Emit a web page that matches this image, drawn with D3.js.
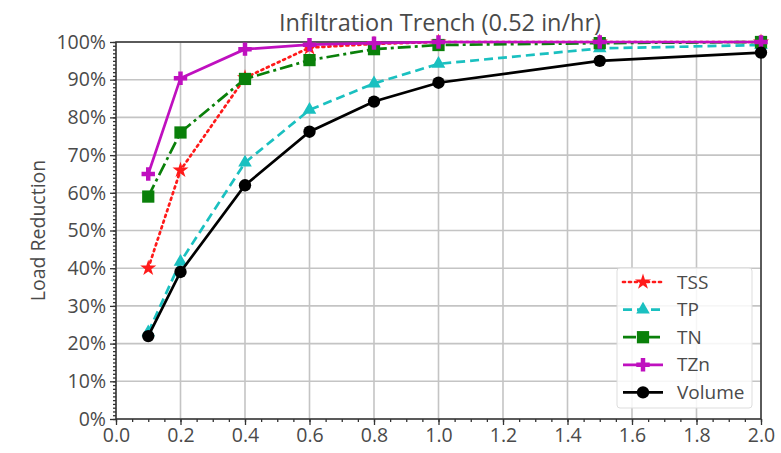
<!DOCTYPE html>
<html><head><meta charset="utf-8">
<script src="https://cdn.jsdelivr.net/npm/d3@7/dist/d3.min.js"></script>
<style>body{margin:0;background:#fff}svg{display:block}</style>
</head><body>
<script>
const xValues = [0.1, 0.2, 0.4, 0.6, 0.8, 1.0, 1.5, 2.0];
const tss    = [40, 66, 90.5, 98.5, 99.5, 100, 100, 100];
const tp     = [23, 41.7, 68, 82, 89, 94.2, 98.3, 99.2];
const tn     = [59, 76, 90.2, 95.2, 98.1, 99.2, 99.7, 100];
const tzn    = [65, 90.4, 98.1, 99.3, 99.7, 100, 100, 100];
const volume = [22, 39, 62, 76.2, 84.2, 89.2, 95, 97.2];
const seriesNames = ["TSS", "TP", "TN", "TZn", "Volume"];
const xTicks = [0, 0.2, 0.4, 0.6, 0.8, 1.0, 1.2, 1.4, 1.6, 1.8, 2.0];
const yTicks = [0, 10, 20, 30, 40, 50, 60, 70, 80, 90, 100];
const title = "Infiltration Trench (0.52 in/hr)";
const yLabel = "Load Reduction";

const W = 781, H = 453;
const m = {l:116, r:20, t:42, b:34};
const svg = d3.select("body").append("svg").attr("width", W).attr("height", H);
const x = d3.scaleLinear().domain([0, 2]).range([m.l, W - m.r]);
const y = d3.scaleLinear().domain([0, 100]).range([H - m.b, m.t]);
const font = "'Open Sans', 'DejaVu Sans', sans-serif";
const txt = "#4a4a4a";

// grid
const g = svg.append("g");
g.selectAll(".gx").data(xTicks).join("line")
  .attr("x1", d => x(d)).attr("x2", d => x(d)).attr("y1", y(0)).attr("y2", y(100))
  .attr("stroke", "#c4c4c4").attr("stroke-width", 1.6);
g.selectAll(".gy").data(yTicks).join("line")
  .attr("y1", d => y(d)).attr("y2", d => y(d)).attr("x1", x(0)).attr("x2", x(2))
  .attr("stroke", "#c4c4c4").attr("stroke-width", 1.6);

// axes
const xAxis = d3.axisBottom(x).tickValues(xTicks).tickFormat(d3.format(".1f")).tickSize(6).tickPadding(3);
const xMinor = d3.axisBottom(x).tickValues(d3.range(0, 2.0001, 0.05)).tickFormat("").tickSize(3);
const yAxis = d3.axisLeft(y).tickValues(yTicks).tickFormat(d => d + "%").tickSize(6).tickPadding(4);
const yMinor = d3.axisLeft(y).tickValues(d3.range(0, 100.001, 1)).tickFormat("").tickSize(3);

function style(sel){
  sel.select(".domain").remove();
  sel.selectAll("line").attr("stroke", "#333").attr("stroke-width", 1.3);
  sel.selectAll("text").attr("fill", txt).style("font-family", font).style("font-size", "19.5px");
}
svg.append("g").attr("transform", `translate(0,${y(0)})`).call(xMinor).call(style);
svg.append("g").attr("transform", `translate(0,${y(0)})`).call(xAxis).call(style);
svg.append("g").attr("transform", `translate(${x(0)},0)`).call(yMinor).call(style);
svg.append("g").attr("transform", `translate(${x(0)},0)`).call(yAxis).call(style);

// frame
svg.append("rect").attr("x", x(0)).attr("y", y(100)).attr("width", x(2) - x(0)).attr("height", y(0) - y(100))
  .attr("fill", "none").attr("stroke", "#333").attr("stroke-width", 1.5);

// series
const series = [
  {name: seriesNames[0], vals: tss, color: "#ff1a1a", dash: "2,4", cap: "round", sym: d3.symbolStar, size: 80},
  {name: seriesNames[1], vals: tp, color: "#1ac0c0", dash: "9,5", cap: "butt", sym: d3.symbolTriangle, size: 80},
  {name: seriesNames[2], vals: tn, color: "#0a800a", dash: "13,4,3,4", cap: "butt", sym: d3.symbolSquare, size: 150},
  {name: seriesNames[3], vals: tzn, color: "#bf10bf", dash: null, cap: "butt", sym: d3.symbolCross, size: 100},
  {name: seriesNames[4], vals: volume, color: "#000", dash: null, cap: "butt", sym: d3.symbolCircle, size: 120},
];
const line = d3.line().x(d => x(d[0])).y(d => y(d[1]));
series.forEach(s => {
  const pts = xValues.map((xv, i) => [xv, s.vals[i]]);
  svg.append("path").datum(pts).attr("d", line).attr("fill", "none")
    .attr("stroke", s.color).attr("stroke-width", 2.7)
    .attr("stroke-dasharray", s.dash).attr("stroke-linecap", s.cap);
  svg.append("g").selectAll("path").data(pts).join("path")
    .attr("transform", d => `translate(${x(d[0])},${y(d[1])})`)
    .attr("d", d3.symbol().type(s.sym).size(s.size)).attr("fill", s.color);
});

// title
svg.append("text").attr("x", 440).attr("y", 31).attr("text-anchor", "middle")
  .attr("fill", txt).style("font-family", font).style("font-size", "23.5px").text(title);
// y label
svg.append("text").attr("transform", `translate(45,${(y(0) + y(100)) / 2}) rotate(-90)`)
  .attr("text-anchor", "middle").attr("fill", txt).style("font-family", font).style("font-size", "19.5px").text(yLabel);

// legend
const lg = svg.append("g").attr("transform", "translate(617,268)");
lg.append("rect").attr("width", 135).attr("height", 140).attr("rx", 3)
  .attr("fill", "rgba(255,255,255,0.85)").attr("stroke", "#ddd");
series.forEach((s, i) => {
  const cy = 14 + i * 27.6;
  lg.append("line").attr("x1", 6).attr("x2", 46).attr("y1", cy).attr("y2", cy)
    .attr("stroke", s.color).attr("stroke-width", 2.7).attr("stroke-dasharray", s.dash).attr("stroke-linecap", s.cap);
  lg.append("path").attr("transform", `translate(26,${cy})`)
    .attr("d", d3.symbol().type(s.sym).size(s.size)).attr("fill", s.color);
  lg.append("text").attr("x", 60).attr("y", cy).attr("dy", "0.35em").attr("fill", txt)
    .style("font-family", font).style("font-size", "19px").text(s.name);
});
</script>
</body></html>
